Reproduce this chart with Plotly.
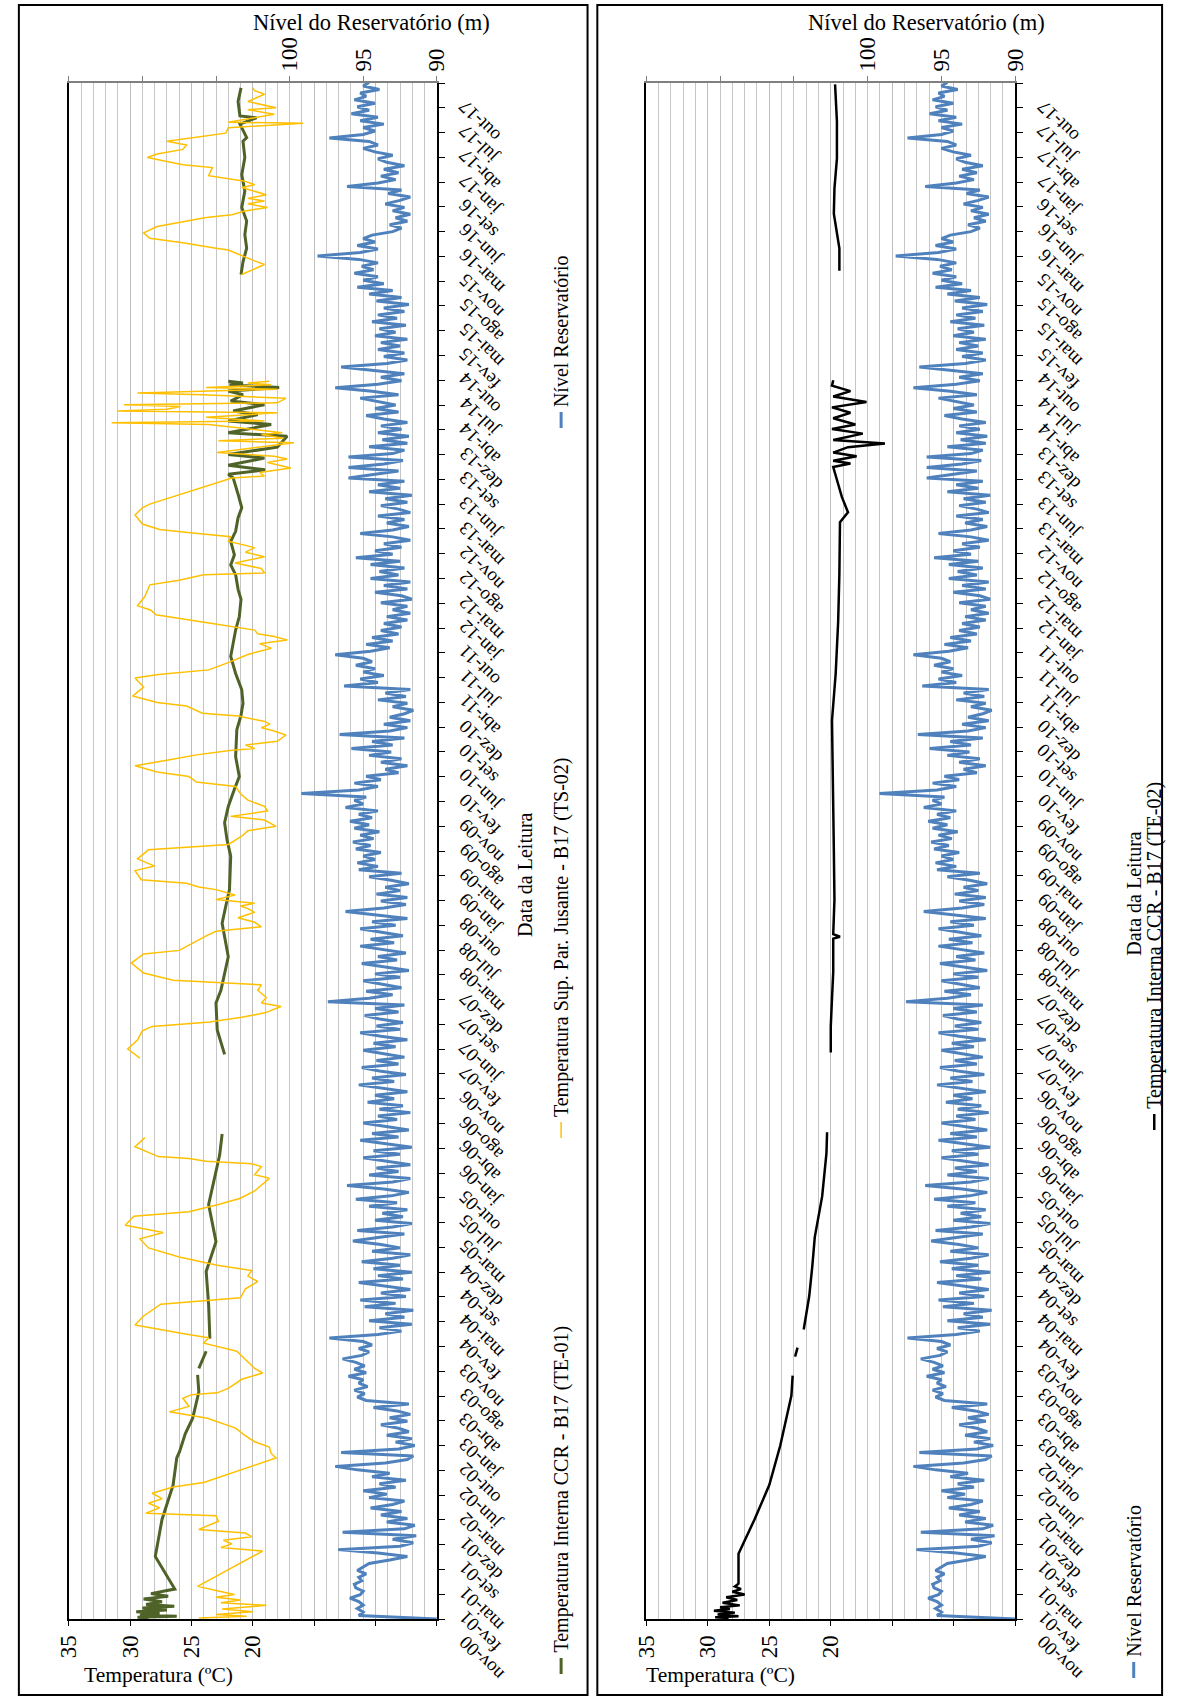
import pandas as pd
import plotly.graph_objects as go

W, H = 1178, 1699

# ---------------- data ----------------
# Reservoir level (m), biweekly readings from the first reading date
NIVEL_INICIO = "2000-11-07"
NIVEL_PASSO_DIAS = 14
NIVEL_M = [
    90.0, 95.3, 95.0, 95.4,
    95.0, 95.3, 95.9, 95.2, 95.0, 95.5, 95.6, 95.1, 95.3, 94.8, 95.4, 95.0, 94.6,
    93.2, 92.0, 94.0, 96.7, 92.5, 91.6, 93.0, 91.4, 96.4, 92.2, 91.5, 93.4, 92.0,
    93.8, 92.4, 94.5, 93.0, 92.2, 94.6, 93.4, 95.0, 92.8, 93.9, 92.1, 94.4, 93.2,
    95.4, 96.9, 93.5, 92.0, 91.6, 96.5, 92.6, 91.5, 92.8, 91.7, 93.4, 91.9, 92.6,
    93.8, 92.0, 93.2, 91.8, 92.7, 94.3, 91.9, 94.8, 95.4, 94.9, 95.6, 94.7, 95.3,
    95.0, 96.0, 94.8, 95.6, 94.9, 95.5, 96.4, 95.1, 94.6, 95.3, 94.4, 95.0, 97.3,
    94.0, 92.4, 93.9, 91.7, 94.6, 92.2, 93.5, 91.6, 94.9, 92.8, 95.2, 92.1, 93.8,
    91.8, 93.6, 95.3, 92.3, 94.0, 91.7, 94.3, 92.5, 95.1, 93.0, 91.8, 94.4, 92.5,
    93.8, 95.7, 94.0, 92.2, 95.4, 93.0, 91.7, 94.2, 92.3, 93.7, 92.0, 94.6, 92.7,
    95.5, 93.1, 91.9, 93.6, 96.1, 93.0, 91.8, 94.6, 92.6, 94.1, 91.8, 93.4, 95.0,
    92.5, 94.3, 91.7, 93.6, 95.2, 92.6, 94.4, 91.9, 93.4, 95.0, 92.7, 94.0, 91.8,
    93.9, 92.3, 94.7, 92.9, 94.2, 92.0, 93.6, 95.3, 92.9, 94.4, 92.1, 93.9, 95.1,
    92.6, 94.1, 92.2, 93.6, 95.0, 92.8, 94.3, 92.0, 93.8, 95.2, 92.5, 94.1, 92.3,
    93.9, 94.9, 92.6, 94.2, 92.2, 97.4, 94.6, 93.0, 94.8, 92.4, 93.7, 95.0, 92.5,
    94.2, 91.9, 93.4, 95.1, 92.7, 94.0, 92.1, 93.6, 95.2, 92.9, 94.5, 92.3, 93.9,
    95.2, 92.8, 94.4, 92.0, 94.2, 96.2, 93.6, 92.1, 93.8, 92.0, 94.1, 92.5, 93.5,
    91.9, 93.1, 94.6, 92.4, 95.3, 94.0, 95.4, 94.2, 95.0, 93.8, 95.5, 94.5, 95.7,
    94.3, 95.2, 93.9, 95.6, 94.6, 95.9, 94.4, 95.3, 94.0, 96.2, 95.0, 95.6, 94.8,
    99.2, 95.3, 94.0, 95.6, 93.8, 94.8, 92.6, 93.5, 92.0, 93.8, 92.4, 94.6, 93.1,
    95.8, 93.0, 94.4, 92.2, 96.6, 93.2, 92.0, 93.6, 91.8, 93.2, 92.2, 91.6, 93.0,
    92.0, 94.0, 92.1, 93.5, 91.8, 96.3, 94.0, 95.2, 93.6, 95.0, 94.2, 95.5, 94.4,
    95.0, 96.9, 94.5, 93.2, 94.8, 93.0, 94.4, 92.6, 93.8, 92.4, 93.6, 92.0, 93.4,
    91.8, 93.0, 92.0, 93.8, 91.7, 92.4, 94.2, 92.0, 93.6, 91.8, 94.5, 92.6, 93.9,
    92.2, 94.5, 92.5, 95.5, 93.0, 94.2, 92.4, 93.6, 91.8, 93.0, 95.2, 93.0, 91.9,
    93.4, 92.2, 94.0, 91.8, 92.6, 93.8, 92.0, 93.5, 91.7, 94.6, 92.5, 94.0, 92.2,
    96.0, 94.2, 92.6, 96.0, 93.6, 92.3, 96.0, 93.0, 92.2, 94.6, 92.0, 93.7, 91.9,
    94.0, 92.4, 93.8, 92.0, 93.6, 94.8, 92.6, 94.2, 92.8, 94.0, 95.2, 92.6, 94.4,
    96.9, 94.0, 92.4, 93.8, 92.2, 94.5, 96.5, 93.4, 92.0, 93.6, 92.2, 94.0, 92.5,
    93.8, 92.0, 94.2, 92.8, 93.9, 92.1, 94.4, 92.7, 94.0, 92.2, 93.6, 91.9, 94.1,
    92.4, 94.6, 93.0, 95.4, 93.6, 95.0, 94.0, 95.6, 94.3, 95.1, 94.0, 95.3, 98.1,
    95.2, 94.0, 95.4, 94.2, 95.0, 94.4, 93.0, 92.4, 93.2, 92.0, 92.8, 91.8, 93.0,
    92.2, 93.5, 92.5, 91.8, 93.3, 92.4, 96.1, 94.0, 92.8, 93.8, 92.6, 93.6, 92.2,
    93.4, 94.0, 93.0, 94.2, 95.0, 94.0, 94.6, 97.3, 95.0, 94.2, 95.0, 93.6, 95.2,
    94.0, 95.8, 94.6, 95.4, 94.2, 95.6, 94.8, 95.2, 93.9, 95.0, 94.6,
]

# Temperatura interna CCR - B17 (TE-01), decimal year; None marks missing readings
TE01_ANO = [2000.86, 2000.87, 2000.88, 2000.89, 2000.91, 2000.93, 2000.95, 2000.97, 2000.99, 2001.01,
            2001.04, 2001.07, 2001.10, 2001.13, 2001.16, 2001.18, 2001.54, 2001.95, 2002.33, 2002.63,
            2002.70, 2002.90, 2003.07, 2003.36, 2003.55, 2003.58, 2003.62, 2003.81, 2003.88, 2003.95,
            2004.32, 2004.69, 2005.02, 2005.43, 2005.80, 2005.98, 2006.21, 2006.60,
            2007.09, 2007.36, 2007.66, 2007.80, 2008.17, 2008.32, 2008.54, 2008.73, 2008.91, 2009.28,
            2009.46, 2009.65, 2009.83, 2010.02, 2010.16, 2010.38, 2010.68, 2010.83, 2010.97, 2011.12,
            2011.30, 2011.49, 2011.78, 2011.93, 2012.12, 2012.23, 2012.39, 2012.50, 2012.61, 2012.76,
            2012.87, 2013.02, 2013.13, 2013.28, 2013.46, 2013.50, 2013.55, 2013.60, 2013.68, 2013.72,
            2013.80, 2013.92, 2013.96, 2014.05, 2014.09, 2014.16, 2014.20, 2014.27, 2014.31, 2014.38,
            2014.42, 2014.46, 2014.49, 2014.51, 2014.53, 2015.00,
            2015.71, 2015.85, 2016.00, 2016.15, 2016.30, 2016.45, 2016.63, 2016.81, 2017.00, 2017.18,
            2017.22, 2017.37, 2017.44, 2017.46, 2017.62, 2017.77]
TE01_C = [28.5, 29.4, 26.2, 29.2, 27.6, 29.5, 27.0, 29.0, 26.4, 28.7,
          27.4, 28.9, 26.9, 28.3, 27.2, 26.36, 27.95, 27.4, 26.5, 26.2,
          25.97, 25.5, 24.9, 24.4, 24.5, None, 24.4, 23.8, None, 23.5,
          23.6, 23.8, 23.0, 23.6, 23.0, 22.7, 22.5, None,
          22.3, 22.9, 23.0, 22.6, 22.0, 22.2, 22.5, 22.2, 21.9, 21.8,
          22.1, 22.3, 22.0, 21.5, 21.1, 21.4, 21.3, 20.97, 20.8, 20.9,
          21.4, 21.8, 21.4, 21.1, 20.96, 21.2, 21.4, 21.8, 21.5, 21.8,
          21.4, 21.2, 20.9, 21.2, 21.6, 22.0, 19.0, 22.0, 19.05, 22.0,
          18.0, 17.2, 22.0, 18.5, 22.0, 19.6, 21.6, 19.05, 21.8, 20.8,
          22.0, 17.85, 21.9, 20.8, 22.0, None,
          20.96, 20.8, 20.5, 20.65, 20.5, 20.9, 20.65, 20.9, 20.65, 20.8,
          20.5, 21.05, 19.7, 21.05, 21.2, 20.96]

# Temperatura superficial paramento jusante - B17 (TS-02)
TS02_ANO = [2000.86, 2000.88, 2000.90, 2000.93, 2000.96, 2001.00, 2001.03, 2001.06, 2001.09, 2001.12,
            2001.16, 2001.21, 2001.60, 2001.64, 2001.68, 2001.72, 2001.76, 2001.80, 2001.82, 2001.84,
            2001.93, 2001.99, 2002.02, 2002.08, 2002.13, 2002.18, 2002.24, 2002.28, 2002.31, 2002.36,
            2002.63, 2002.68, 2002.75, 2002.81, 2002.88, 2002.96, 2003.07, 2003.14, 2003.20, 2003.29,
            2003.33, 2003.35, 2003.40, 2003.50, 2003.57, 2003.62, 2003.71, 2003.81, 2003.90, 2003.96,
            2004.00, 2004.10, 2004.20, 2004.33, 2004.40, 2004.50, 2004.58, 2004.64, 2004.70, 2004.76,
            2004.85, 2004.95, 2005.05, 2005.12, 2005.20, 2005.30, 2005.35, 2005.43, 2005.50, 2005.58,
            2005.72, 2005.76, 2005.85, 2005.88, 2005.91, 2005.94, 2005.96, 2006.07, 2006.17, 2006.60,
            2007.05, 2007.15, 2007.25, 2007.35, 2007.40, 2007.45, 2007.50, 2007.55, 2007.62, 2007.66,
            2007.72, 2007.80, 2007.86, 2007.91, 2007.99, 2008.10, 2008.20, 2008.24, 2008.40, 2008.45,
            2008.50, 2008.55, 2008.60, 2008.66, 2008.70, 2008.73, 2008.76, 2008.80, 2008.85, 2008.88,
            2008.91, 2008.94, 2008.98, 2009.02, 2009.12, 2009.17, 2009.25, 2009.35, 2009.39, 2009.41,
            2009.50, 2009.56, 2009.61, 2009.68, 2009.72, 2009.78, 2009.83, 2009.90, 2009.97, 2010.05,
            2010.10, 2010.16, 2010.21, 2010.28, 2010.34, 2010.40, 2010.45, 2010.47, 2010.51, 2010.55,
            2010.62, 2010.67, 2010.70, 2010.74, 2010.77, 2010.83, 2010.86, 2010.94, 2010.98, 2011.05,
            2011.15, 2011.25, 2011.29, 2011.34, 2011.42, 2011.47, 2011.51, 2011.58, 2011.63, 2011.67,
            2011.71, 2011.74, 2011.78, 2011.86, 2011.89, 2011.95, 2012.00, 2012.05, 2012.15, 2012.28,
            2012.33, 2012.39, 2012.41, 2012.46, 2012.52, 2012.59, 2012.64, 2012.69, 2012.76, 2012.81,
            2012.85, 2012.89, 2012.95, 2013.05, 2013.13, 2013.17, 2013.46, 2013.48, 2013.52, 2013.57,
            2013.63, 2013.67, 2013.70, 2013.74, 2013.85, 2013.87, 2013.90, 2013.94, 2013.96, 2014.05,
            2014.07, 2014.09, 2014.13, 2014.18, 2014.20, 2014.22, 2014.25, 2014.27, 2014.29, 2014.34,
            2014.38, 2014.40, 2014.44, 2014.46, 2014.49, 2014.51, 2014.53, 2015.00,
            2015.71, 2015.82, 2015.86, 2015.98, 2016.00, 2016.06, 2016.11, 2016.17, 2016.24, 2016.30,
            2016.34, 2016.37, 2016.41, 2016.45, 2016.49, 2016.52, 2016.55, 2016.59, 2016.67, 2016.70,
            2016.74, 2016.80, 2016.89, 2016.92, 2017.00, 2017.04, 2017.09, 2017.14, 2017.18, 2017.27,
            2017.33, 2017.38, 2017.39, 2017.48, 2017.53, 2017.55, 2017.62, 2017.70, 2017.74, 2017.77]
TS02_C = [24.4, 20.5, 23.0, 20.0, 22.5, 18.9, 22.6, 21.0, 23.0, 21.5,
          22.8, 24.5, 19.2, 22.6, 21.7, 22.4, 20.1, 20.6, 22.5, 24.4,
          22.8, 23.0, 28.7, 27.6, 28.5, 27.4, 28.2, 27.2, 26.5, 24.0,
          18.1, 18.5, 18.65, 19.85, 20.65, 21.4, 23.7, 26.8, 25.2, 25.7,
          25.0, 22.9, 22.0, 20.9, 19.2, 19.85, 20.5, 21.3, 24.0, 23.6,
          25.5, 29.6, 28.9, 27.5, 21.0, 20.6, 19.6, 20.4, 20.1, 22.9,
          26.0, 28.5, 29.2, 27.3, 30.4, 29.7, 25.2, 22.8, 21.0, 19.85,
          18.65, 19.85, 19.3, 20.1, 23.8, 25.2, 27.7, 29.6, 28.8, None,
          29.2, 30.2, 29.4, 29.0, 28.2, 23.5, 20.9, 19.0, 17.7, 19.3,
          18.9, 19.6, 19.3, 26.5, 28.9, 29.9, 28.9, 26.0, 23.8, 23.0,
          19.3, 19.85, 21.2, 19.85, 20.4, 21.0, 19.85, 23.0, 21.45, 22.2,
          23.0, 24.4, 25.4, 29.1, 29.6, 28.0, 29.4, 28.5, 24.1, 22.0,
          20.9, 20.4, 18.1, 19.05, 21.8, 18.8, 19.05, 20.4, 21.0, 21.4,
          24.6, 25.2, 27.8, 29.6, 27.0, 24.6, 21.7, 19.85, 20.6, 18.0,
          17.3, 18.4, 19.3, 18.6, 19.05, 21.2, 24.1, 25.4, 27.8, 29.8,
          28.9, 29.6, 27.7, 23.6, 22.0, 21.1, 20.4, 18.5, 19.45, 17.2,
          18.25, 19.6, 19.85, 23.7, 25.0, 27.9, 28.3, 29.4, 28.8, 28.4,
          26.0, 24.0, 19.05, 19.3, 21.45, 19.05, 20.6, 19.85, 22.0, 21.8,
          24.9, 27.6, 29.0, 29.6, 29.0, 28.4, 21.7, 19.05, 19.45, 16.9,
          18.8, 17.2, 18.25, 22.9, 16.65, 22.8, 17.5, 19.3, 17.6, 23.6,
          31.5, 19.05, 23.8, 18.0, 31.0, 27.0, 25.9, 30.5, 18.0, 17.3,
          24.1, 29.4, 18.0, 23.8, 18.5, 20.4, 18.65, None,
          20.9, 19.05, 19.85, 22.0, 23.0, 25.7, 28.4, 28.9, 27.8, 25.4,
          23.8, 21.7, 20.65, 18.8, 20.4, 19.05, 20.4, 18.9, 20.9, 19.85,
          20.65, 23.6, 23.3, 25.7, 28.6, 27.8, 25.7, 25.4, 27.0, 22.2,
          22.0, 15.9, 22.0, 18.25, 20.4, 18.1, 20.4, 19.05, 19.85, 20.0]

# Temperatura interna CCR - B17 (TE-02)
TE02_ANO = [2000.86, 2000.87, 2000.88, 2000.90, 2000.92, 2000.94, 2000.96, 2000.98, 2001.00, 2001.03,
            2001.06, 2001.09, 2001.12, 2001.15, 2001.18, 2001.21, 2001.24, 2001.57, 2001.95, 2002.33,
            2002.77, 2003.32, 2003.54, 2003.65, 2003.75, 2003.85, 2003.95, 2004.05, 2004.09, 2004.42,
            2004.75, 2005.07, 2005.52, 2006.00, 2006.23, 2006.60,
            2007.11, 2007.40, 2007.71, 2008.00, 2008.37, 2008.39, 2008.42, 2008.80, 2009.35, 2010.00,
            2010.78, 2011.30, 2011.87, 2012.40, 2012.97, 2013.08, 2013.25, 2013.58, 2013.62, 2013.65,
            2013.70, 2013.74, 2013.80, 2013.84, 2013.88, 2013.95, 2014.00, 2014.05, 2014.12, 2014.18,
            2014.24, 2014.30, 2014.36, 2014.42, 2014.48, 2014.54, 2015.00,
            2015.75, 2016.00, 2016.38, 2016.66, 2016.99, 2017.40, 2017.81]
TE02_C = [28.3, 29.4, 27.5, 29.2, 27.8, 29.5, 28.2, 29.0, 27.4, 28.8,
          27.6, 28.5, 27.0, 28.0, 27.3, 27.8, 27.5, 27.5, 26.2, 25.0,
          24.1, 23.2, 23.1, None, 22.9, 22.7, None, 22.2, 22.15, 21.75,
          21.5, 21.3, 20.7, 20.35, 20.3, None,
          20.0, 20.0, 19.9, 19.8, 19.8, 19.25, 19.8, 19.7, 19.75, 19.8,
          19.9, 19.6, 19.4, 19.3, 19.25, 18.6, 19.1, 19.8, 18.4, 19.8,
          17.9, 19.8, 18.6, 15.6, 19.8, 17.4, 19.9, 18.0, 19.8, 18.4,
          19.9, 17.1, 19.8, 18.4, 19.9, 19.8, None,
          19.3, 19.3, 19.75, 19.7, 19.5, 19.5, 19.65]

# date axis
MESES = ["jan", "fev", "mar", "abr", "mai", "jun", "jul", "ago", "set", "out", "nov", "dez"]
DATA_INICIO = "2000-11-07"
DATA_FIM = "2017-10-29"
PASSO_DIAS = 100

TEMP_TICKS = [35, 30, 25, 20, 15, 10, 5]
TEMP_LABELS = ["35", "30", "25", "20", "", "", ""]
NIVEL_TICKS = [115, 110, 105, 100, 95, 90]
NIVEL_LABELS = ["", "", "", "100", "95", "90"]

COR_NIVEL = "#4F81BD"
COR_TE01 = "#4F6228"
COR_TS02 = "#FFC000"
COR_TE02 = "#000000"
FONTE = "Liberation Serif, Times New Roman, serif"


def ano_para_data(a):
    ano = int(a)
    ini = pd.Timestamp(year=ano, month=1, day=1)
    dias = (pd.Timestamp(year=ano + 1, month=1, day=1) - ini).days
    return ini + pd.Timedelta(days=(a - ano) * dias)


def datas(anos):
    return [ano_para_data(a) for a in anos]


nivel_datas = [pd.Timestamp(NIVEL_INICIO) + pd.Timedelta(days=NIVEL_PASSO_DIAS * i)
               for i in range(len(NIVEL_M))]

inicio = pd.Timestamp(DATA_INICIO)
fim = pd.Timestamp(DATA_FIM)
tick_datas = []
d = inicio
while d <= fim + pd.Timedelta(days=1):
    tick_datas.append(d)
    d = d + pd.Timedelta(days=PASSO_DIAS)
tick_textos = [f"{MESES[t.month - 1]}-{t.year % 100:02d}" for t in tick_datas]


def px(x):
    return x / W


def py(y):
    return 1 - y / H


# plot rectangles (pixels)
PAINEIS = [
    dict(x0=57, x1=433, ya="y"),
    dict(x0=647, x1=1024, ya="y2"),
]
Y_TOP, Y_BOT = 83, 1619

fig = go.Figure()

# left panel
fig.add_trace(go.Scatter(x=TE01_C, y=datas(TE01_ANO), mode="lines", xaxis="x", yaxis="y",
                         line=dict(color=COR_TE01, width=3), connectgaps=False))
fig.add_trace(go.Scatter(x=TS02_C, y=datas(TS02_ANO), mode="lines", xaxis="x", yaxis="y",
                         line=dict(color=COR_TS02, width=1.5), connectgaps=False))
fig.add_trace(go.Scatter(x=NIVEL_M, y=nivel_datas, mode="lines", xaxis="x2", yaxis="y",
                         line=dict(color=COR_NIVEL, width=3)))
# right panel
fig.add_trace(go.Scatter(x=TE02_C, y=datas(TE02_ANO), mode="lines", xaxis="x3", yaxis="y2",
                         line=dict(color=COR_TE02, width=2.5), connectgaps=False))
fig.add_trace(go.Scatter(x=NIVEL_M, y=nivel_datas, mode="lines", xaxis="x4", yaxis="y2",
                         line=dict(color=COR_NIVEL, width=3)))


def eixo_temp(dom, anchor):
    return dict(domain=dom, anchor=anchor, range=[35, 5], tickmode="array",
                tickvals=TEMP_TICKS, ticktext=TEMP_LABELS, tickangle=-90,
                ticks="outside", ticklen=5, tickcolor="black", tickwidth=1,
                showline=True, linecolor="black", linewidth=2, zeroline=False,
                showgrid=True, gridcolor="#BDBDBD", gridwidth=1,
                minor=dict(tickmode="linear", tick0=5, dtick=1, showgrid=True,
                           gridcolor="#C6C6C6", gridwidth=1, ticks=""),
                tickfont=dict(family=FONTE, size=23, color="black"),
                ticklabelstandoff=0)


def eixo_nivel(overlay, anchor):
    return dict(overlaying=overlay, anchor=anchor, side="top", range=[115, 90],
                tickmode="array", tickvals=NIVEL_TICKS, ticktext=NIVEL_LABELS,
                tickangle=-90, ticks="outside", ticklen=5, tickcolor="#808080",
                showline=True, linecolor="#808080", linewidth=2, showgrid=False,
                zeroline=False, tickfont=dict(family=FONTE, size=23, color="black"))


def eixo_data(anchor):
    return dict(domain=[py(Y_BOT), py(Y_TOP)], anchor=anchor, side="right", type="date",
                range=[inicio, fim], tickmode="array", tickvals=tick_datas,
                showticklabels=False, ticks="outside", ticklen=6, tickcolor="black",
                showline=True, linecolor="black", linewidth=2, mirror=True,
                showgrid=False, zeroline=False)


fig.update_layout(
    width=W, height=H, margin=dict(l=0, r=0, t=0, b=0),
    paper_bgcolor="white", plot_bgcolor="white", showlegend=False,
    xaxis=eixo_temp([px(57), px(433)], "y"),
    xaxis2=eixo_nivel("x", "y"),
    xaxis3=eixo_temp([px(647), px(1024)], "y2"),
    xaxis4=eixo_nivel("x3", "y2"),
    yaxis=eixo_data("x"),
    yaxis2=eixo_data("x3"),
)

anots = []
shapes = []
for p in PAINEIS:
    # rotated date labels
    for t, txt in zip(tick_datas, tick_textos):
        anots.append(dict(x=px(p["x1"]), xref="paper", y=t, yref=p["ya"], text=txt,
                          showarrow=False, textangle=-135, xanchor="left", yanchor="top",
                          xshift=15, yshift=-10,
                          font=dict(family=FONTE, size=19, color="black")))

# axis titles
for x_niv, x_temp, x_data, y_data in [(366, 149, 523, 875), (933, 723, 1145, 894)]:
    anots.append(dict(x=px(x_niv), y=py(22), xref="paper", yref="paper", showarrow=False,
                      text="Nível do Reservatório (m)", xanchor="center", yanchor="middle",
                      font=dict(family=FONTE, size=22.5, color="black")))
    anots.append(dict(x=px(x_temp), y=py(1675), xref="paper", yref="paper", showarrow=False,
                      text="Temperatura (ºC)", xanchor="center", yanchor="middle",
                      font=dict(family=FONTE, size=21.5, color="black")))
    anots.append(dict(x=px(x_data), y=py(y_data), xref="paper", yref="paper", showarrow=False,
                      text="Data da Leitura", textangle=-90, xanchor="center", yanchor="middle",
                      font=dict(family=FONTE, size=20, color="black")))

# legends (rotated): (x center, y of icon bottom, label, colour, width)
LEGENDA = [
    (560, 1674, "Temperatura Interna CCR - B17 (TE-01)", COR_TE01, 3),
    (560, 1138, "Temperatura Sup. Par. Jusante - B17 (TS-02)", COR_TS02, 1.5),
    (560, 428, "Nível Reservatório", COR_NIVEL, 3),
    (1166, 1130, "Temperatura Interna CCR - B17 (TE-02)", COR_TE02, 2.5),
    (1145, 1678, "Nível Reservatório", COR_NIVEL, 3),
]
for x, yb, txt, cor, lw in LEGENDA:
    shapes.append(dict(type="line", xref="paper", yref="paper", x0=px(x), x1=px(x),
                       y0=py(yb), y1=py(yb - 16), line=dict(color=cor, width=lw)))
    anots.append(dict(x=px(x), y=py(yb - 19), xref="paper", yref="paper", showarrow=False,
                      text=txt, textangle=-90, xanchor="center", yanchor="bottom",
                      font=dict(family=FONTE, size=20, color="black")))

# outer frames
for x0, x1 in [(6, 587), (597, 1174)]:
    shapes.append(dict(type="rect", xref="paper", yref="paper", x0=px(x0), x1=px(x1),
                       y0=py(1695), y1=py(5), line=dict(color="black", width=2)))

fig.update_layout(annotations=anots, shapes=shapes)
fig.write_html("out.html")
